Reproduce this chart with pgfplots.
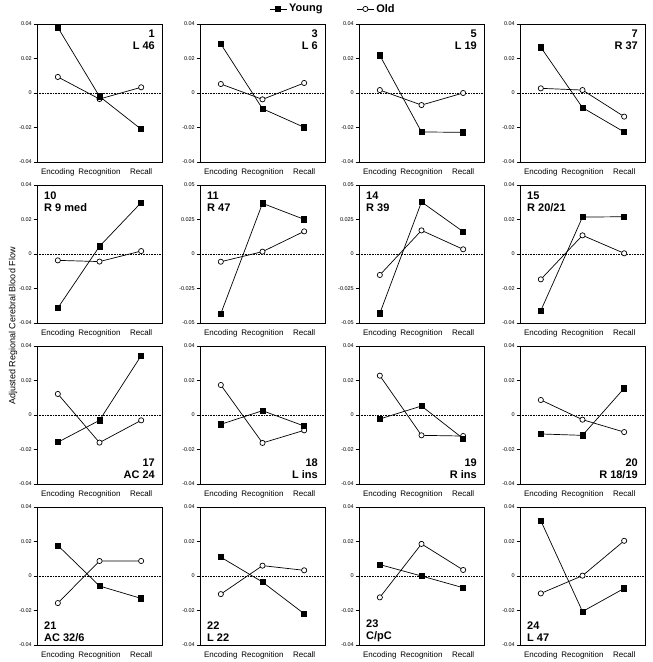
\documentclass[border=0pt]{standalone}
\usepackage{fontspec}
\setmainfont{Liberation Sans}
\usepackage{pgfplots}
\pgfplotsset{compat=1.18}

\pgfplotsset{
  panel/.style={
    scale only axis, width=125pt, height=138pt, anchor=north west, clip=false,
    xmin=0.5, xmax=3.5, ymin=-0.04, ymax=0.04, scaled y ticks=false,
    xtick={1,2,3}, xticklabels={Encoding,Recognition,Recall},
    ytick={-0.04,-0.02,0,0.02,0.04}, yticklabels={-0.04,-0.02,0,0.02,0.04},
    xtick style={draw=none}, ytick pos=left, tick align=outside, major tick length=3.5pt,
    x tick label style={font=\fontsize{8}{9}\selectfont},
    y tick label style={font=\fontsize{5.5}{6}\selectfont, inner sep=1.5pt},
    axis line style={line width=0.8pt}, tick style={line width=0.6pt, black},
  },
  wide/.style={ymin=-0.05, ymax=0.05, ytick={-0.05,-0.025,0,0.025,0.05},
    yticklabels={-0.05,-0.025,0,0.025,0.05}},
  young/.style={black, line width=0.7pt, mark=square*, mark size=2.6pt},
  old/.style={black, line width=0.7pt, mark=*, mark size=2.6pt,
    mark options={fill=white, line width=0.7pt}},
}
\tikzset{
  lab/.style={font=\bfseries\fontsize{11}{12}\selectfont, inner sep=0pt},
  tr/.style={lab, anchor=north east, align=right, xshift=-7pt, yshift=-6pt},
  tl/.style={lab, anchor=north west, align=left, xshift=7pt, yshift=-7pt},
  br/.style={lab, anchor=south east, align=right, xshift=-7pt, yshift=5pt},
  bl/.style={lab, anchor=south west, align=left, xshift=7pt, yshift=3pt},
}

% #1 x, #2 y (top left corner), #3 extra options, #4 young, #5 old, #6 label
\newcommand{\panel}[6]{%
\begin{axis}[panel, at={(#1pt,#2pt)}, #3]
\addplot[densely dotted, line width=0.6pt, forget plot] coordinates {(0.5,0) (3.5,0)};
\addplot[old] coordinates {#5};
\addplot[young] coordinates {#4};
#6
\end{axis}}

\begin{document}
\begin{tikzpicture}
\useasboundingbox (0,0) rectangle (653pt,662pt);

% row 1
\panel{37}{638}{}{(1,0.038) (2,-0.002) (3,-0.021)}{(1,0.0093) (2,-0.0035) (3,0.0033)}
  {\node[tr] at (rel axis cs:1,1) {1\\L 46};}
\panel{200}{638}{legend entries={Old,Young}, reverse legend, legend columns=2,
  legend style={at={(1.064,1.109)}, anchor=center, draw=none, fill=none,
  font=\bfseries\fontsize{11}{12}\selectfont,
  /tikz/every even column/.append style={column sep=32pt}}}
  {(1,0.0284) (2,-0.0091) (3,-0.0199)}{(1,0.0052) (2,-0.0037) (3,0.0058)}
  {\node[tr] at (rel axis cs:1,1) {3\\L 6};}
\panel{359}{638}{}{(1,0.0218) (2,-0.0226) (3,-0.0228)}{(1,0.0017) (2,-0.007) (3,0)}
  {\node[tr] at (rel axis cs:1,1) {5\\L 19};}
\panel{520}{638}{}{(1,0.0265) (2,-0.0085) (3,-0.0226)}{(1,0.0027) (2,0.0017) (3,-0.0137)}
  {\node[tr] at (rel axis cs:1,1) {7\\R 37};}

% row 2
\panel{37}{477}{}{(1,-0.0313) (2,0.0044) (3,0.0298)}{(1,-0.0037) (2,-0.0044) (3,0.0017)}
  {\node[tl] at (rel axis cs:0,1) {10\\R 9 med};}
\panel{200}{477}{wide}{(1,-0.0432) (2,0.0367) (3,0.0251)}{(1,-0.0056) (2,0.0017) (3,0.0164)}
  {\node[tl] at (rel axis cs:0,1) {11\\R 47};}
\panel{359}{477}{wide}{(1,-0.043) (2,0.0377) (3,0.0162)}{(1,-0.0152) (2,0.0171) (3,0.0034)}
  {\node[tl] at (rel axis cs:0,1) {14\\R 39};}
\panel{520}{477}{}{(1,-0.0328) (2,0.0214) (3,0.0216)}{(1,-0.0147) (2,0.0108) (3,0.0004)}
  {\node[tl] at (rel axis cs:0,1) {15\\R 20/21};}

% row 3
\panel{37}{316}{}{(1,-0.0158) (2,-0.0031) (3,0.0344)}{(1,0.0122) (2,-0.016) (3,-0.0031)}
  {\node[br] at (rel axis cs:1,0) {17\\AC 24};}
\panel{200}{316}{}{(1,-0.0054) (2,0.0025) (3,-0.0064)}{(1,0.0174) (2,-0.0162) (3,-0.0089)}
  {\node[br] at (rel axis cs:1,0) {18\\L ins};}
\panel{359}{316}{}{(1,-0.0023) (2,0.0052) (3,-0.0137)}{(1,0.0228) (2,-0.0118) (3,-0.0122)}
  {\node[br] at (rel axis cs:1,0) {19\\R ins};}
\panel{520}{316}{}{(1,-0.011) (2,-0.0118) (3,0.0155)}{(1,0.0087) (2,-0.0027) (3,-0.0099)}
  {\node[br] at (rel axis cs:1,0) {20\\R 18/19};}

% row 4
\panel{37}{155}{}{(1,0.0177) (2,-0.0058) (3,-0.013)}{(1,-0.0157) (2,0.0087) (3,0.0087)}
  {\node[bl] at (rel axis cs:0,0) {21\\AC 32/6};}
\panel{200}{155}{}{(1,0.0109) (2,-0.0035) (3,-0.0219)}{(1,-0.0105) (2,0.006) (3,0.0033)}
  {\node[bl] at (rel axis cs:0,0) {22\\L 22};}
\panel{359}{155}{}{(1,0.0066) (2,0) (3,-0.0068)}{(1,-0.0124) (2,0.0186) (3,0.0035)}
  {\node[bl] at (rel axis cs:0,0) {23\\C/pC};}
\panel{520}{155}{}{(1,0.032) (2,-0.0206) (3,-0.0072)}{(1,-0.0101) (2,0.0002) (3,0.0204)}
  {\node[bl] at (rel axis cs:0,0) {24\\L 47};}

\node[rotate=90, font=\fontsize{9}{10}\selectfont] at (13pt,336pt)
  {Adjusted Regional Cerebral Blood Flow};
\end{tikzpicture}
\end{document}
